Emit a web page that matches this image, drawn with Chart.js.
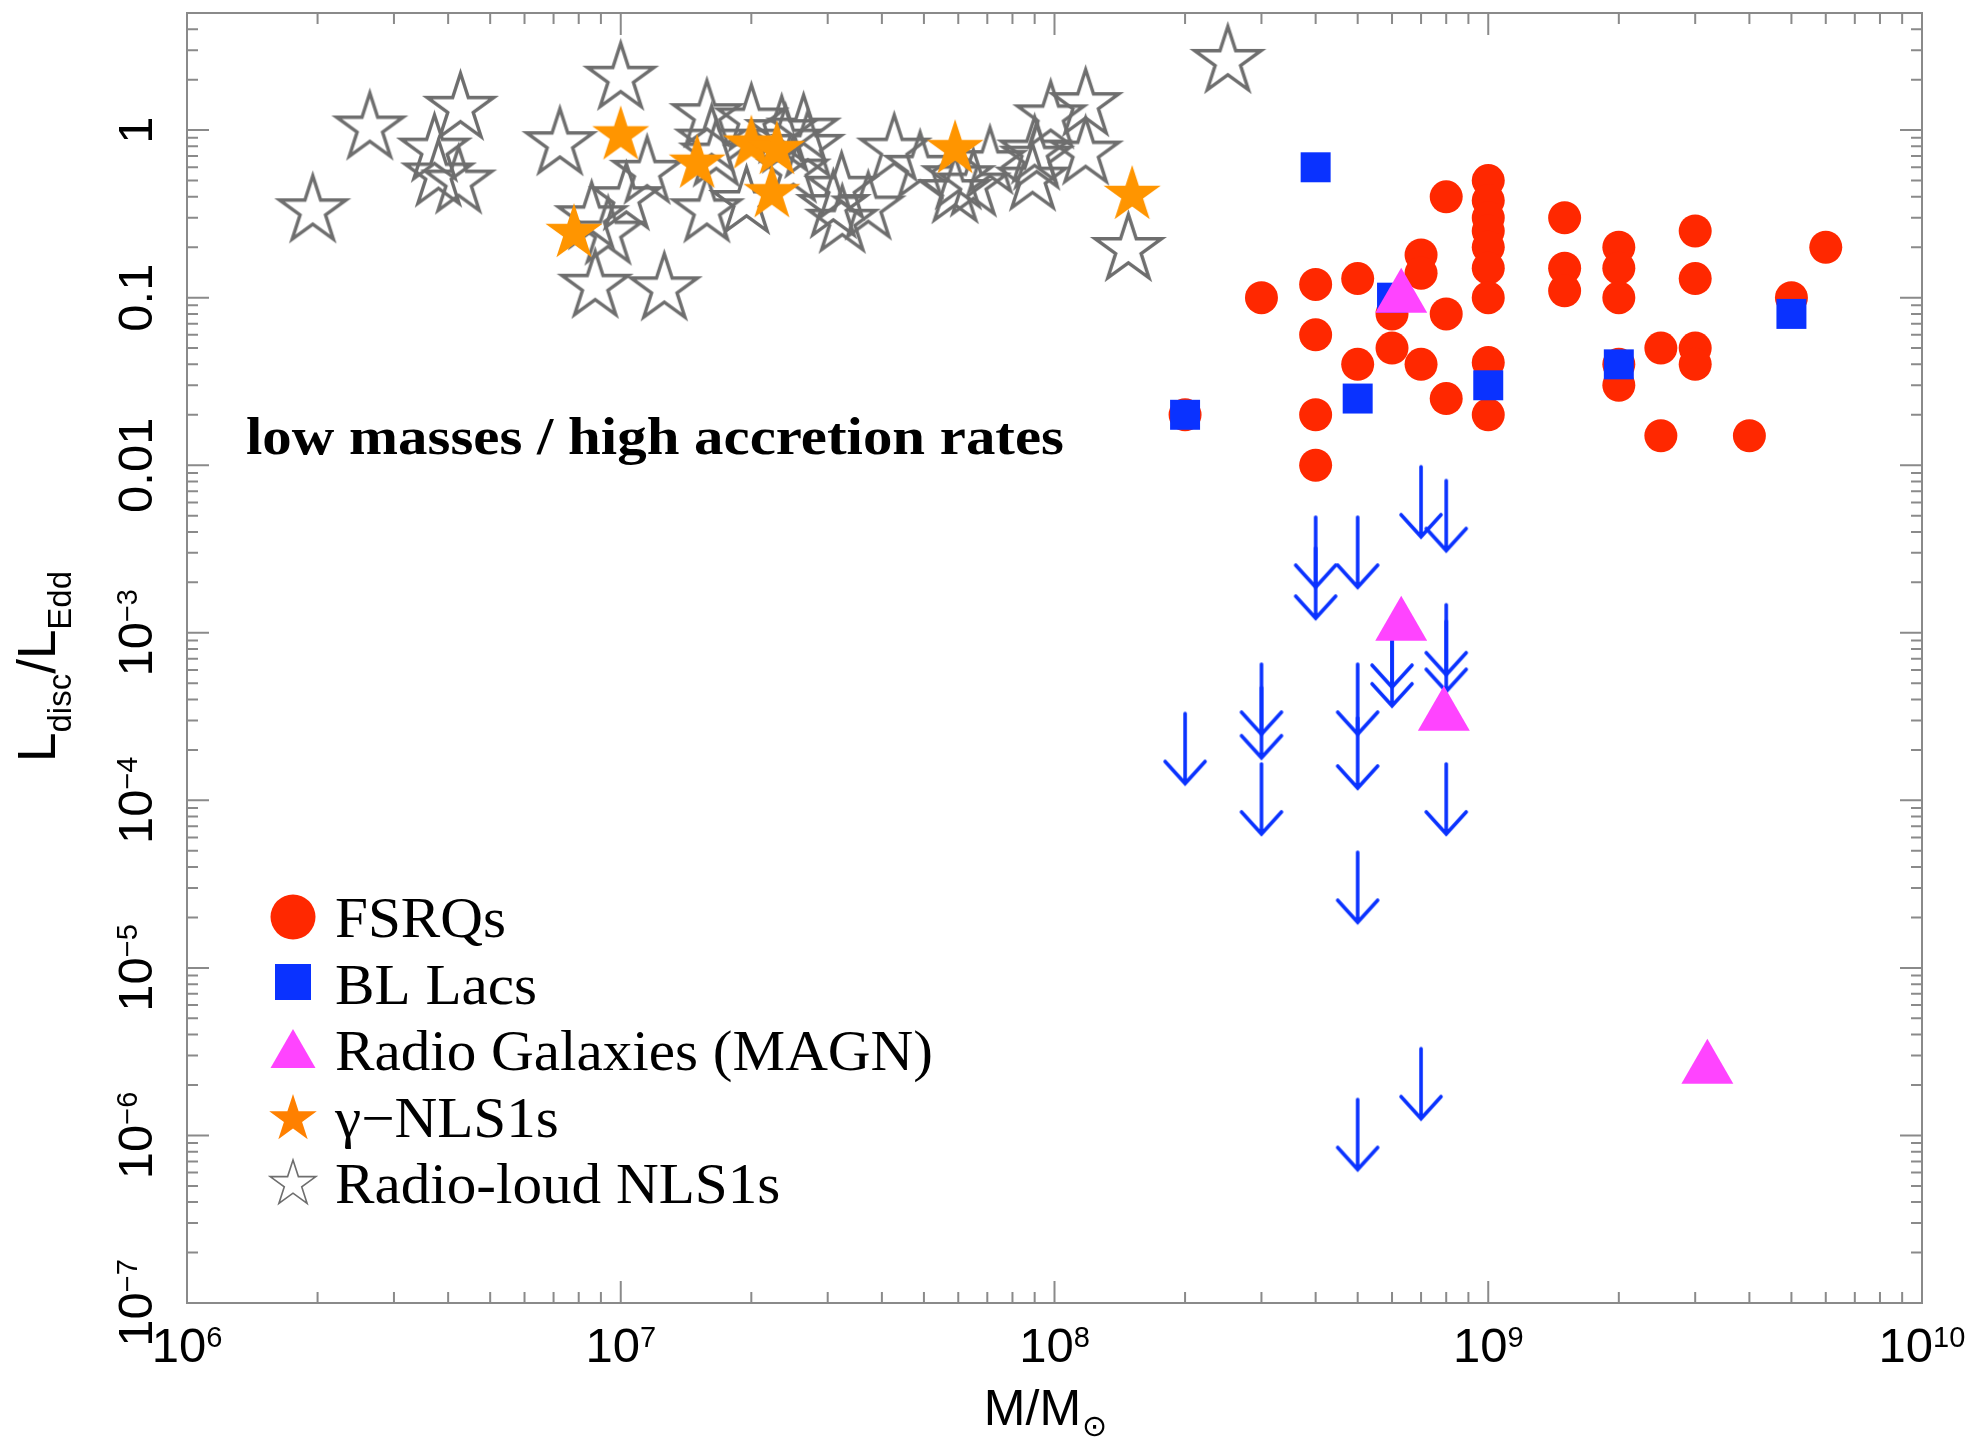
<!DOCTYPE html>
<html>
<head>
<meta charset="utf-8">
<script src="https://cdn.jsdelivr.net/npm/chart.js@4.4.1/dist/chart.umd.min.js"></script>
<style>
  html, body { margin: 0; padding: 0; background: #fff; }
  #wrap { width: 1978px; height: 1440px; }
</style>
</head>
<body>
<div id="wrap"><canvas id="myChart"></canvas></div>
<script>
// ---- data (M/Msun, Ldisc/LEdd) ----
const fsrqMass = [2e8, 3e8, 4e8, 4e8, 4e8, 4e8, 5e8, 5e8, 6e8, 6e8, 7e8, 7e8, 7e8, 8e8, 8e8, 8e8,
    1e9, 1e9, 1e9, 1e9, 1e9, 1e9, 1e9, 1e9, 1e9, 1.5e9, 1.5e9, 1.5e9, 2e9, 2e9, 2e9, 2e9, 2e9,
    2.5e9, 2.5e9, 3e9, 3e9, 3e9, 3e9, 4e9, 5e9, 6e9];
const fsrqEdd = [0.02, 0.1, 0.12, 0.06, 0.02, 0.01, 0.13, 0.04, 0.08, 0.05, 0.18, 0.14, 0.04, 0.4, 0.08, 0.025,
    0.5, 0.38, 0.3, 0.25, 0.2, 0.15, 0.1, 0.041, 0.02, 0.3, 0.15, 0.11, 0.2, 0.15, 0.1, 0.04, 0.03,
    0.05, 0.015, 0.25, 0.13, 0.05, 0.04, 0.015, 0.1, 0.2];

const bllMass = [2e8, 4e8, 5e8, 6e8, 1e9, 2e9, 5e9];
const bllEdd = [0.02, 0.6, 0.025, 0.1, 0.03, 0.04, 0.08];

// upper limits (arrows)
const limMass = [2e8, 3e8, 3e8, 3e8, 4e8, 4e8, 5e8, 5e8, 5e8, 5e8, 5e8, 6e8, 6e8, 7e8, 7e8, 8e8, 8e8, 8e8, 8e8];
const limEdd = [3.3e-4, 6.5e-4, 4.7e-4, 1.65e-4, 4.9e-3, 3.2e-3, 4.9e-3, 6.5e-4, 3.1e-4, 4.9e-5, 1.64e-6,
    1.24e-3, 9.6e-4, 9.8e-3, 3.3e-6, 8.1e-3, 1.47e-3, 1.17e-3, 1.65e-4];

const rgMass = [6.3e8, 6.3e8, 7.9e8, 3.2e9];
const rgEdd = [0.1, 1.1e-3, 3.2e-4, 2.5e-6];

const gnlsMass = [7.8e6, 1.0e7, 1.5e7, 2.0e7, 2.29e7, 2.23e7, 5.9e7, 1.51e8];
const gnlsEdd = [0.243, 0.93, 0.63, 0.82, 0.76, 0.42, 0.77, 0.41];

const rlnlsMass = [1.95e6, 2.64e6, 3.72e6, 3.8e6, 4.23e6, 4.27e6, 7.24e6, 8.57e6, 8.73e6, 9.35e6,
    1.0e7, 1.03e7, 1.15e7, 1.26e7, 1.58e7, 1.62e7, 1.66e7, 1.58e7, 1.95e7, 2.0e7, 2.35e7, 2.4e7,
    2.5e7, 2.64e7, 2.7e7, 3.09e7, 3.23e7, 3.24e7, 3.72e7, 4.27e7, 4.9e7, 5.9e7, 6.0e7, 6.5e7,
    7.1e7, 8.9e7, 9.0e7, 9.1e7, 9.8e7, 1.18e8, 1.18e8, 1.48e8, 2.51e8];
const rlnlsEdd = [0.33, 1.03, 0.76, 0.54, 0.49, 1.35, 0.83, 0.3, 0.117, 0.243,
    2.04, 0.39, 0.56, 0.113, 1.22, 0.86, 0.71, 0.33, 0.37, 1.15, 0.98, 0.86,
    0.57, 1.0, 0.8, 0.35, 0.45, 0.286, 0.343, 0.76, 0.6, 0.43, 0.52, 0.47,
    0.64, 0.51, 0.74, 0.68, 1.2, 1.42, 0.73, 0.194, 2.57];

const xTickVals = [1e6, 1e7, 1e8, 1e9, 1e10];
const xTickExp = ['6', '7', '8', '9', '10'];
const yTickVals = [1e-7, 1e-6, 1e-5, 1e-4, 1e-3, 1e-2, 1e-1, 1];
const yTickBase = ['10', '10', '10', '10', '10', '0.01', '0.1', '1'];
const yTickExp = ['\u22127', '\u22126', '\u22125', '\u22124', '\u22123', '', '', ''];

const legendLabels = ['FSRQs', 'BL Lacs', 'Radio Galaxies (MAGN)', '\u03b3\u2212NLS1s', 'Radio-loud NLS1s'];

const pts = (xs, ys) => xs.map((x, i) => ({ x: x, y: ys[i] }));

// ---- custom marker images ----
function starPath(g, R) {
    g.beginPath();
    for (let i = 0; i < 10; i++) {
        const r = i % 2 === 0 ? R : R * 0.382;
        const a = -Math.PI / 2 + i * Math.PI / 5;
        g.lineTo(r * Math.cos(a), r * Math.sin(a));
    }
    g.closePath();
}
function makeStar(R, fill, stroke, lw) {
    const s = Math.ceil(2 * R + 2 * lw + 6);
    const c = document.createElement('canvas');
    c.width = s; c.height = s;
    const g = c.getContext('2d');
    g.translate(s / 2, s / 2);
    starPath(g, R);
    if (fill) { g.fillStyle = fill; g.fill(); }
    if (stroke) { g.strokeStyle = stroke; g.lineWidth = lw; g.lineJoin = 'miter'; g.stroke(); }
    return c;
}
function makeArrow(len, wing, color, lw) {
    const w = Math.ceil(2 * wing + 2 * lw + 6);
    const h = Math.ceil(2 * (len + lw + 4));
    const c = document.createElement('canvas');
    c.width = w; c.height = h;
    const g = c.getContext('2d');
    g.translate(w / 2, h / 2);
    g.strokeStyle = color;
    g.lineWidth = lw;
    g.lineCap = 'round';
    g.lineJoin = 'miter';
    g.beginPath();
    g.moveTo(0, 0); g.lineTo(0, len);
    g.moveTo(-wing, len - wing * 1.1); g.lineTo(0, len); g.lineTo(wing, len - wing * 1.1);
    g.stroke();
    return c;
}

const RED = '#ff2800', BLUE = '#0a32ff', MAGENTA = '#ff44ff', ORANGE = '#ff9500', GREY = '#6e6e6e';
const grayStar = makeStar(35, null, GREY, 3.4);
const orangeStar = makeStar(30, ORANGE, null, 0);
const arrow = makeArrow(70, 20, BLUE, 3.6);

// ---- frame, ticks, labels, legend ----
const AXIS = '#8a8a8a';
const framePlugin = {
    id: 'frame',
    beforeDatasetsDraw(chart) {
        const { ctx, chartArea: a, scales: { x, y } } = chart;
        ctx.save();
        ctx.strokeStyle = AXIS;
        ctx.lineWidth = 2;
        ctx.strokeRect(a.left, a.top, a.right - a.left, a.bottom - a.top);
        ctx.beginPath();
        for (let e = 6; e < 10; e++) {
            for (let k = 1; k <= 10; k++) {
                const px = x.getPixelForValue(k * Math.pow(10, e));
                const L = (k === 1 || k === 10) ? 22 : 11;
                ctx.moveTo(px, a.bottom); ctx.lineTo(px, a.bottom - L);
                ctx.moveTo(px, a.top); ctx.lineTo(px, a.top + L);
            }
        }
        for (let e = -7; e <= 0; e++) {
            for (let k = 1; k <= 9; k++) {
                const v = k * Math.pow(10, e);
                if (v > y.max) continue;
                const py = y.getPixelForValue(v);
                const L = k === 1 ? 22 : 11;
                ctx.moveTo(a.left, py); ctx.lineTo(a.left + L, py);
                ctx.moveTo(a.right, py); ctx.lineTo(a.right - L, py);
            }
        }
        ctx.stroke();
        ctx.restore();
    },
    afterDraw(chart) {
        const { ctx, scales: { x, y } } = chart;
        ctx.save();
        ctx.fillStyle = '#000';
        const big = '49px "Liberation Sans", Arial, sans-serif';
        const small = '29px "Liberation Sans", Arial, sans-serif';

        // x tick labels
        ctx.textBaseline = 'alphabetic';
        ctx.textAlign = 'left';
        xTickVals.forEach((v, i) => {
            const px = x.getPixelForValue(v);
            ctx.font = big; const wb = ctx.measureText('10').width;
            ctx.font = small; const we = ctx.measureText(xTickExp[i]).width;
            const x0 = px - (wb + we) / 2;
            ctx.font = big; ctx.fillText('10', x0, 1362);
            ctx.font = small; ctx.fillText(xTickExp[i], x0 + wb, 1347);
        });

        // y tick labels (rotated)
        yTickVals.forEach((v, i) => {
            const py = y.getPixelForValue(v);
            ctx.save();
            ctx.translate(152, py);
            ctx.rotate(-Math.PI / 2);
            ctx.font = big; const wb = ctx.measureText(yTickBase[i]).width;
            ctx.font = small; const we = yTickExp[i] ? ctx.measureText(yTickExp[i]).width : 0;
            const x0 = -(wb + we) / 2;
            ctx.font = big; ctx.fillText(yTickBase[i], x0, 0);
            if (yTickExp[i]) { ctx.font = small; ctx.fillText(yTickExp[i], x0 + wb, -15); }
            ctx.restore();
        });

        // x title  M/M_sun
        ctx.font = '50px "Liberation Sans", Arial, sans-serif';
        const wm = ctx.measureText('M/M').width;
        ctx.font = '30px "DejaVu Sans", sans-serif';
        const ws = ctx.measureText('\u2299').width;
        const tx = 1045 - (wm + ws) / 2;
        ctx.font = '50px "Liberation Sans", Arial, sans-serif';
        ctx.fillText('M/M', tx, 1425);
        ctx.font = '30px "DejaVu Sans", sans-serif';
        ctx.fillText('\u2299', tx + wm + 1, 1436);

        // y title  L_disc / L_Edd
        ctx.save();
        ctx.translate(55, 762);
        ctx.rotate(-Math.PI / 2);
        const parts = [['L', 0], ['disc', 1], ['/L', 0], ['Edd', 1]];
        let cx = 0;
        parts.forEach(([t, sub]) => {
            ctx.font = sub ? '33px "Liberation Sans", Arial, sans-serif' : '53px "Liberation Sans", Arial, sans-serif';
            ctx.fillText(t, cx, sub ? 16 : 0);
            cx += ctx.measureText(t).width;
        });
        ctx.restore();

        // annotation
        ctx.font = 'bold 52px "Liberation Serif", "Times New Roman", serif';
        const note = 'low masses / high accretion rates';
        const nw = ctx.measureText(note).width;
        ctx.save();
        ctx.translate(246, 454);
        ctx.scale(818 / nw, 1);
        ctx.fillText(note, 0, 0);
        ctx.restore();

        // legend
        ctx.font = '56px "Liberation Serif", "Times New Roman", serif';
        const sx = 598 / ctx.measureText(legendLabels[2]).width;
        const baselines = [937, 1004, 1070, 1137, 1203];
        legendLabels.forEach((t, i) => {
            ctx.save();
            ctx.translate(335, baselines[i]);
            ctx.scale(sx, 1);
            ctx.fillText(t, 0, 0);
            ctx.restore();
        });
        const lx = 293;
        ctx.fillStyle = RED;
        ctx.beginPath(); ctx.arc(lx, 917, 22.5, 0, Math.PI * 2); ctx.fill();
        ctx.fillStyle = BLUE;
        ctx.fillRect(lx - 18, 982 - 18, 36, 36);
        ctx.fillStyle = MAGENTA;
        ctx.beginPath();
        ctx.moveTo(lx, 1029); ctx.lineTo(lx + 22.5, 1068); ctx.lineTo(lx - 22.5, 1068); ctx.closePath();
        ctx.fill();
        ctx.save();
        ctx.translate(lx, 1119); starPath(ctx, 25); ctx.fillStyle = '#ff8000'; ctx.fill();
        ctx.restore();
        ctx.save();
        ctx.translate(lx, 1184); starPath(ctx, 24); ctx.strokeStyle = GREY; ctx.lineWidth = 1.6; ctx.stroke();
        ctx.restore();

        ctx.restore();
    }
};

const ctx = document.querySelector('#myChart').getContext('2d');
const config = {
    type: 'scatter',
    data: {
        datasets: [
            { label: 'FSRQs', data: pts(fsrqMass, fsrqEdd), order: 6,
              pointStyle: 'circle', pointRadius: 16.5, backgroundColor: RED, borderWidth: 0 },
            { label: 'BL Lacs', data: pts(bllMass, bllEdd), order: 5,
              pointStyle: 'rect', pointRadius: 21.2, backgroundColor: BLUE, borderWidth: 0 },
            { label: 'upper limits', data: pts(limMass, limEdd), order: 4,
              pointStyle: arrow, pointRadius: 10 },
            { label: 'Radio Galaxies (MAGN)', data: pts(rgMass, rgEdd), order: 3,
              pointStyle: 'triangle', pointRadius: 30, backgroundColor: MAGENTA, borderWidth: 0 },
            { label: 'Radio-loud NLS1s', data: pts(rlnlsMass, rlnlsEdd), order: 2,
              pointStyle: grayStar, pointRadius: 10 },
            { label: '\u03b3-NLS1s', data: pts(gnlsMass, gnlsEdd), order: 1,
              pointStyle: orangeStar, pointRadius: 10 }
        ]
    },
    options: {
        responsive: true,
        maintainAspectRatio: false,
        devicePixelRatio: 1,
        animation: false,
        events: [],
        layout: { autoPadding: false, padding: { left: 187, right: 56, top: 13, bottom: 137 } },
        plugins: { legend: { display: false }, tooltip: { enabled: false } },
        scales: {
            x: { type: 'logarithmic', min: 1e6, max: 1e10, display: false },
            y: { type: 'logarithmic', min: 1e-7, max: 5, display: false }
        }
    },
    plugins: [framePlugin]
};
new Chart(ctx, config);
</script>
</body>
</html>
